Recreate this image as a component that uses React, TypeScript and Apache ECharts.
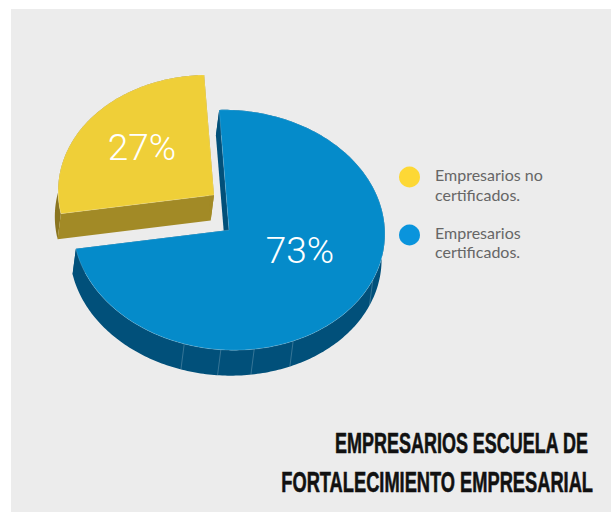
import React, { useEffect, useRef } from "react";
import * as echarts from "echarts";

const categories = ["Empresarios no\ncertificados.", "Empresarios\ncertificados."];
const values = [27, 73];
const titleLines = ["EMPRESARIOS ESCUELA DE", "FORTALECIMIENTO EMPRESARIAL"];
const seamAngles = [110, 153, 168, 180.3, 194];

const RX = 156, RY = 120, ROT = (3.5 * Math.PI) / 180;
const EX = -3.3, EY = 25.5;
const BLUE_START = -6.3;

function pt(cx: number, cy: number, deg: number): number[] {
  const t = (deg * Math.PI) / 180;
  const x = RX * Math.sin(t), y = -RY * Math.cos(t);
  return [cx + x * Math.cos(ROT) - y * Math.sin(ROT), cy + x * Math.sin(ROT) + y * Math.cos(ROT)];
}
function arc(cx: number, cy: number, a: number, b: number): number[][] {
  const out: number[][] = [];
  const n = Math.ceil(Math.abs(b - a));
  for (let i = 0; i <= n; i++) out.push(pt(cx, cy, a + ((b - a) * i) / n));
  return out;
}
const shift = (p: number[]) => [p[0] + EX, p[1] + EY];

function sliceItem(cx: number, cy: number, start: number, value: number, total: number, seams: number[], c: any) {
  const end = start + (value / total) * 360;
  const rim = arc(cx, cy, start, end);
  const apex = [cx, cy];
  const children: any[] = [];
  children.push({ type: "polygon", shape: { points: [...rim, ...rim.slice().reverse().map(shift)] }, style: { fill: c.band } });
  seams.forEach((d) => {
    const p = pt(cx, cy, d), q = shift(p);
    children.push({ type: "line", shape: { x1: p[0], y1: p[1], x2: q[0], y2: q[1] }, style: { stroke: "rgba(255,255,255,0.3)", lineWidth: 0.7 } });
  });
  const wall = (p: number[]) => ({ type: "polygon", shape: { points: [p, shift(p), shift(apex), apex] }, style: { fill: c.wall } });
  children.push(wall(rim[0]));
  children.push(wall(rim[rim.length - 1]));
  children.push({ type: "polygon", shape: { points: [apex, ...rim] }, style: { fill: c.top, stroke: "rgba(255,255,255,0.28)", lineWidth: 0.6 } });
  children.push({
    type: "text",
    style: {
      text: `${value}%`, x: cx + c.lx, y: cy + c.ly, fill: "#ffffff", fontSize: 37, fontWeight: 300,
      fontFamily: "Roboto", textAlign: "center", textVerticalAlign: "middle",
    },
  });
  return { type: "group", children };
}

export default function App() {
  const ref = useRef<HTMLDivElement>(null);
  useEffect(() => {
    const chart = echarts.init(ref.current!, undefined, { renderer: "svg" });
    const total = values[0] + values[1];
    const blueEnd = BLUE_START + (values[1] / total) * 360;
    const swatches = ["#fdd835", "#0a94dc"];
    chart.setOption({
      animation: false,
      graphic: [
        ...categories.flatMap((name, i) => [
          { type: "circle", shape: { cx: 409.5, cy: 177 + i * 58, r: 10.5 }, style: { fill: swatches[i] } },
          {
            type: "text", x: 435, y: 184.5 + i * 57.5,
            style: { text: name, fill: "#666666", fontFamily: "Lato", fontSize: 16, lineHeight: 19.5, textAlign: "left", textVerticalAlign: "middle" },
          },
        ]),
        ...titleLines.map((t, i) => ({
          type: "text", x: i === 0 ? 588 : 593, y: i === 0 ? 443 : 482, scaleX: i === 0 ? 0.62 : 0.63, scaleY: 1,
          style: {
            text: t, fill: "#111111", stroke: "#111111", lineWidth: 0.6, fontFamily: "Liberation Sans", fontWeight: "bold", fontSize: 29,
            textAlign: "right", textVerticalAlign: "middle",
          },
        })),
      ],
      series: [
        {
          type: "custom", name: categories[0], coordinateSystem: "none", data: [[values[0]]],
          itemStyle: { color: "#efcf38" },
          renderItem: (_p: any, api: any) =>
            sliceItem(214, 195, blueEnd, api.value(0), total, [], { top: "#efcf38", wall: "#a28a26", band: "#8a7520", lx: -72, ly: -48 }),
        },
        {
          type: "custom", name: categories[1], coordinateSystem: "none", data: [[values[1]]],
          itemStyle: { color: "#058bca" },
          renderItem: (_p: any, api: any) =>
            sliceItem(229, 230, BLUE_START, api.value(0), total, seamAngles, { top: "#058bca", wall: "#01507a", band: "#01507a", lx: 71, ly: 20 }),
        },
      ],
    });
    return () => chart.dispose();
  }, []);
  return (
    <div style={{ position: "absolute", left: 0, top: 0, width: 611, height: 512, background: "#ffffff", overflow: "hidden" }}>
      <div style={{ position: "absolute", left: 11, top: 9, width: 600, height: 503, background: "#ececec" }} />
      <div ref={ref} style={{ position: "absolute", left: 0, top: 0, width: 611, height: 512 }} />
    </div>
  );
}
